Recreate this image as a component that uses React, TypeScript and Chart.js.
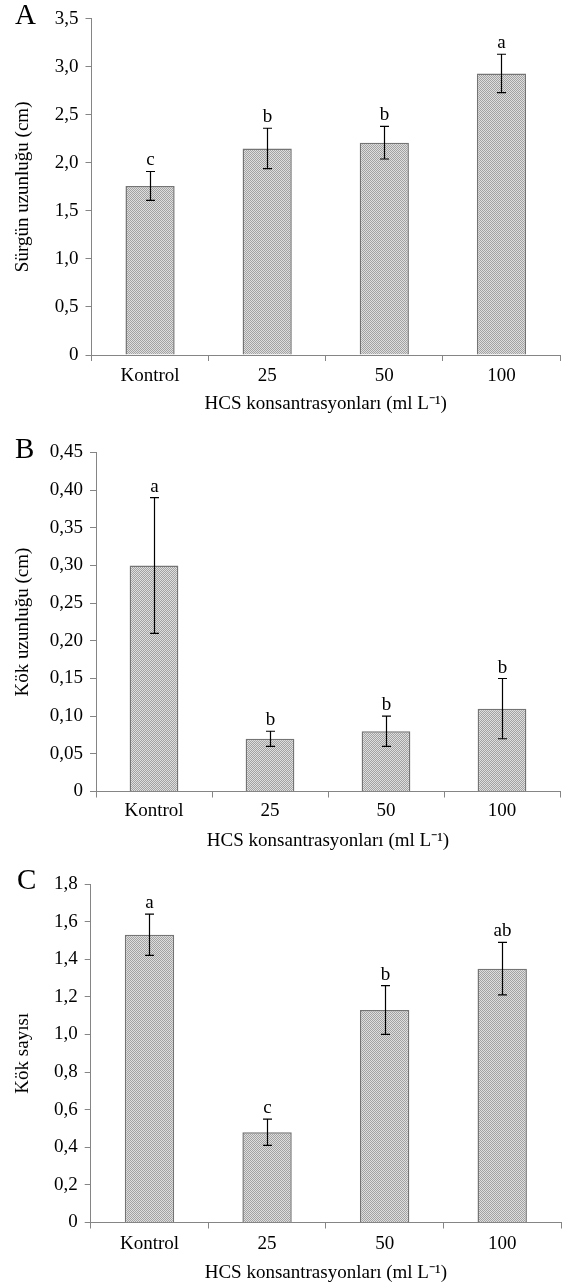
import React, { useEffect, useRef } from "react";
import { Chart, registerables } from "chart.js";

Chart.register(...registerables);

// ---- Data ----
const categories = ["Kontrol", "25", "50", "100"];

const shootLength = [1.76, 2.15, 2.21, 2.93];
const shootLengthErr = [0.15, 0.21, 0.17, 0.2];
const shootLetters = ["c", "b", "b", "a"];

const rootLength = [0.3, 0.07, 0.08, 0.11];
const rootLengthErr = [0.09, 0.01, 0.02, 0.04];
const rootLetters = ["a", "b", "b", "b"];

const rootCount = [1.53, 0.48, 1.13, 1.35];
const rootCountErr = [0.11, 0.07, 0.13, 0.14];
const rootCountLetters = ["a", "c", "b", "ab"];

const xTitle = "HCS konsantrasyonları (ml L⁻¹)";

const FONT = "'Liberation Serif', 'Times New Roman', serif";
const AXIS_COLOR = "#858585";
const W = 563;

function makePattern(): CanvasPattern | string {
  const c = document.createElement("canvas");
  c.width = 2;
  c.height = 2;
  const g = c.getContext("2d");
  if (!g) return "#bdbdbd";
  g.fillStyle = "#dedede";
  g.fillRect(0, 0, 2, 2);
  g.fillStyle = "#a2a2a2";
  g.fillRect(0, 0, 1, 1);
  g.fillRect(1, 1, 1, 1);
  return g.createPattern(c, "repeat") || "#bdbdbd";
}

type PanelProps = {
  top: number;
  height: number;
  chartTop: number;
  axisY: number;
  axisX: number;
  rightPad: number;
  decimals: number;
  max: number;
  step: number;
  values: number[];
  errors: number[];
  letters: string[];
  yTitle: string;
  yTitlePad: number;
  tickPadX: number;
  titlePadBottom: number;
  panelLetter: string;
  letterX: number;
  letterY: number;
};

function Panel(p: PanelProps) {
  const ref = useRef<HTMLCanvasElement>(null);
  useEffect(() => {
    const canvas = ref.current;
    if (!canvas) return;
    const pattern = makePattern();
    const annot = {
      id: "annot" + p.panelLetter,
      afterDatasetsDraw(chart: any) {
        const ctx = chart.ctx;
        const meta = chart.getDatasetMeta(0);
        const ys = chart.scales.y;
        ctx.save();
        ctx.strokeStyle = "#000";
        ctx.lineWidth = 1.2;
        ctx.fillStyle = "#000";
        ctx.font = `19px ${FONT}`;
        ctx.textAlign = "center";
        ctx.textBaseline = "alphabetic";
        meta.data.forEach((bar: any, i: number) => {
          const x = Math.round(bar.x) + 0.5;
          const t = ys.getPixelForValue(p.values[i] + p.errors[i]);
          const b = ys.getPixelForValue(p.values[i] - p.errors[i]);
          ctx.beginPath();
          ctx.moveTo(x, t);
          ctx.lineTo(x, b);
          ctx.moveTo(x - 4.5, t);
          ctx.lineTo(x + 4.5, t);
          ctx.moveTo(x - 4.5, b);
          ctx.lineTo(x + 4.5, b);
          ctx.stroke();
          ctx.fillText(p.letters[i], x, t - 6);
        });
        ctx.restore();
      },
      afterDraw(chart: any) {
        const ctx = chart.ctx;
        ctx.save();
        ctx.fillStyle = "#000";
        ctx.font = `29px ${FONT}`;
        ctx.textAlign = "left";
        ctx.textBaseline = "alphabetic";
        ctx.fillText(p.panelLetter, p.letterX, p.letterY);
        ctx.restore();
      },
    };
    const chart = new Chart(canvas, {
      type: "bar",
      data: {
        labels: categories,
        datasets: [
          {
            data: p.values,
            backgroundColor: pattern as any,
            borderColor: "#747474",
            borderWidth: 1.5,
            barPercentage: 0.42,
            categoryPercentage: 1,
          },
        ],
      },
      options: {
        animation: false,
        responsive: false,
        devicePixelRatio: 1,
        layout: { padding: { top: p.chartTop, right: p.rightPad, bottom: 0, left: 0 } },
        plugins: { legend: { display: false }, tooltip: { enabled: false } },
        scales: {
          x: {
            type: "category",
            offset: true,
            grid: { drawOnChartArea: false, tickLength: 6, color: AXIS_COLOR, offset: true },
            border: { color: AXIS_COLOR, width: 1 },
            ticks: { font: { family: FONT, size: 19 }, color: "#000", padding: p.tickPadX, maxRotation: 0 },
            title: {
              display: true,
              text: xTitle,
              font: { family: FONT, size: 19 },
              color: "#000",
              padding: { top: 0, bottom: p.titlePadBottom },
            },
            afterFit: (s: any) => {
              s.height = p.height - p.axisY;
            },
          },
          y: {
            type: "linear",
            min: 0,
            max: p.max,
            grid: { drawOnChartArea: false, tickLength: 6, color: AXIS_COLOR },
            border: { color: AXIS_COLOR, width: 1 },
            ticks: {
              stepSize: p.step,
              font: { family: FONT, size: 19 },
              color: "#000",
              padding: 7,
              callback: (v: any) => (Number(v) === 0 ? "0" : Number(v).toFixed(p.decimals).replace(".", ",")),
            },
            title: {
              display: true,
              text: p.yTitle,
              font: { family: FONT, size: 19 },
              color: "#000",
              padding: { top: p.yTitlePad, bottom: 0 },
            },
            afterFit: (s: any) => {
              s.width = p.axisX;
            },
          },
        },
      } as any,
      plugins: [annot],
    });
    return () => chart.destroy();
  }, []);
  return (
    <canvas
      ref={ref}
      width={W}
      height={p.height}
      style={{ position: "absolute", left: 0, top: p.top, width: W, height: p.height }}
    />
  );
}

export default function App() {
  return (
    <div style={{ position: "absolute", left: 0, top: 0, width: W, height: 1288, background: "#fff" }}>
      <Panel
        top={0}
        height={425}
        chartTop={18.7}
        axisY={355}
        axisX={91.5}
        rightPad={3}
        decimals={1}
        max={3.5}
        step={0.5}
        values={shootLength}
        errors={shootLengthErr}
        letters={shootLetters}
        yTitle="Sürgün uzunluğu (cm)"
        yTitlePad={12}
        tickPadX={4}
        titlePadBottom={10}
        panelLetter="A"
        letterX={15}
        letterY={24}
      />
      <Panel
        top={425}
        height={435}
        chartTop={27.5}
        axisY={366.5}
        axisX={96}
        rightPad={3}
        decimals={2}
        max={0.45}
        step={0.05}
        values={rootLength}
        errors={rootLengthErr}
        letters={rootLetters}
        yTitle="Kök uzunluğu (cm)"
        yTitlePad={12}
        tickPadX={2}
        titlePadBottom={8}
        panelLetter="B"
        letterX={15}
        letterY={33}
      />
      <Panel
        top={860}
        height={428}
        chartTop={24}
        axisY={362.5}
        axisX={90.7}
        rightPad={2}
        decimals={1}
        max={1.8}
        step={0.2}
        values={rootCount}
        errors={rootCountErr}
        letters={rootCountLetters}
        yTitle="Kök sayısı"
        yTitlePad={12}
        tickPadX={4}
        titlePadBottom={4}
        panelLetter="C"
        letterX={17}
        letterY={29}
      />
    </div>
  );
}
